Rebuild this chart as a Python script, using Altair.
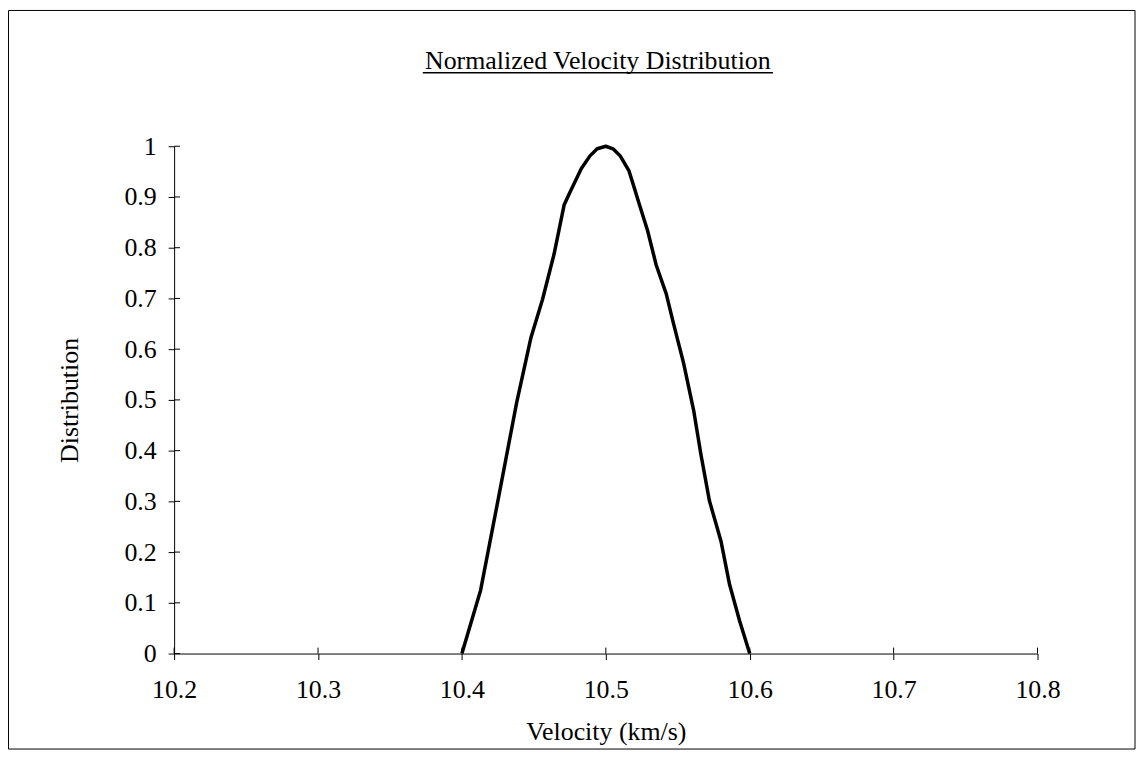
import altair as alt
import pandas as pd

# Data
velocity = [10.400, 10.413, 10.425, 10.438, 10.448, 10.456, 10.464, 10.471, 10.475, 10.483,
            10.489, 10.494, 10.500, 10.505, 10.510, 10.516, 10.520, 10.523, 10.529, 10.535,
            10.542, 10.547, 10.554, 10.561, 10.566, 10.572, 10.580, 10.586, 10.593, 10.600]
distribution = [0.0, 0.125, 0.301, 0.494, 0.623, 0.698, 0.787, 0.884, 0.909, 0.956,
                0.981, 0.995, 1.0, 0.995, 0.981, 0.952, 0.916, 0.888, 0.834, 0.766,
                0.709, 0.651, 0.573, 0.480, 0.394, 0.301, 0.222, 0.136, 0.064, 0.0]
x_ticks = [10.2, 10.3, 10.4, 10.5, 10.6, 10.7, 10.8]
y_ticks = [0, 0.1, 0.2, 0.3, 0.4, 0.5, 0.6, 0.7, 0.8, 0.9, 1.0]
title_text = "Normalized Velocity Distribution"
x_title = "Velocity (km/s)"
y_title = "Distribution"

W, H = 868, 510
FONT = "Liberation Serif"

df = pd.DataFrame({"v": velocity, "d": distribution})
xt = pd.DataFrame({"t": x_ticks})
yt = pd.DataFrame({"t": y_ticks})

xscale = alt.Scale(domain=[10.2, 10.8], nice=False, zero=False)
yscale = alt.Scale(domain=[0, 1], nice=False)

line = alt.Chart(df).mark_line(color="black", strokeWidth=3.5, strokeJoin="round").encode(
    x=alt.X("v:Q", scale=xscale,
            axis=alt.Axis(values=x_ticks, format="~g", title=x_title, tickSize=6,
                          labelPadding=17, titlePadding=16, labelFlush=False)),
    y=alt.Y("d:Q", scale=yscale,
            axis=alt.Axis(values=y_ticks, format="~g", title=y_title, tickSize=6,
                          labelPadding=12, titlePadding=42, labelFlush=False)),
)

xin = alt.Chart(xt).mark_rule(color="black", strokeWidth=1).encode(
    x=alt.X("t:Q", scale=xscale), y=alt.value(H), y2=alt.value(H - 6)
)
yin = alt.Chart(yt).mark_rule(color="black", strokeWidth=1).encode(
    y=alt.Y("t:Q", scale=yscale), x=alt.value(0), x2=alt.value(6)
)

one = alt.Data(values=[{"a": 1}])
title = alt.Chart(one).mark_text(
    text=title_text, font=FONT, fontSize=26, align="center", baseline="alphabetic", color="black"
).encode(x=alt.value(426), y=alt.value(-78))
underline = alt.Chart(one).mark_rule(color="black", strokeWidth=1.5).encode(
    x=alt.value(250), x2=alt.value(602), y=alt.value(-74)
)
border = alt.Chart(one).mark_rect(fill="transparent", stroke="black", strokeWidth=1).encode(
    x=alt.value(-166.5), x2=alt.value(966), y=alt.value(-136.5), y2=alt.value(606)
)

chart = alt.layer(border, line, xin, yin, title, underline).properties(
    width=W, height=H,
    autosize=alt.AutoSizeParams(type="none"),
    padding={"left": 167, "top": 137, "right": 99, "bottom": 98},
).configure_view(stroke="transparent").configure_axis(
    grid=False, domainColor="black", tickColor="black", labelColor="black", titleColor="black",
    labelFont=FONT, titleFont=FONT, labelFontSize=26, titleFontSize=26,
    titleFontWeight="normal", domainWidth=1, tickWidth=1
)

chart.save("out.html", embed_options={"renderer": "svg", "actions": False})
